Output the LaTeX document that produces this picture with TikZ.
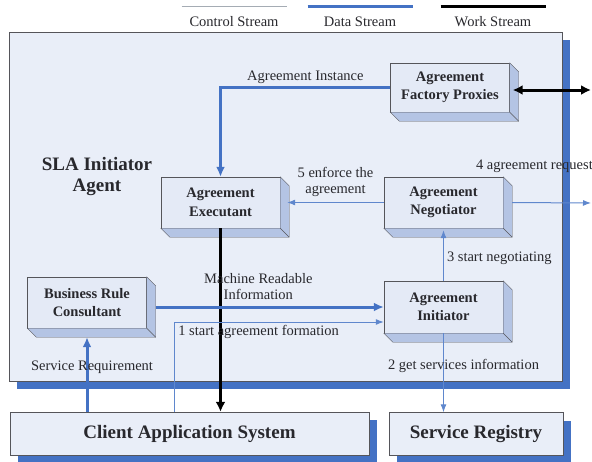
\documentclass[tikz,border=0pt]{standalone}
\usepackage{fontspec}
\setmainfont{Liberation Serif}
\usetikzlibrary{arrows.meta,shadows}

\definecolor{agentfill}{RGB}{233,238,248}
\definecolor{boxfront}{RGB}{228,234,246}
\definecolor{boxside}{RGB}{180,196,228}
\definecolor{datablue}{RGB}{68,114,196}
\definecolor{ctrlblue}{RGB}{95,135,205}
\definecolor{ctrlgrey}{RGB}{165,172,180}
\definecolor{edgegrey}{RGB}{85,85,90}
\definecolor{textgrey}{RGB}{40,40,45}

\begin{document}
\begin{tikzpicture}[x=1pt, y=-1pt,
    agentbox/.style={draw=edgegrey, fill=boxfront, align=center, inner sep=1pt,
      font=\bfseries\fontsize{14.5}{18.5}\selectfont, text=textgrey,
      minimum width=119pt, minimum height=51pt},
    sysbox/.style={draw=edgegrey, fill=agentfill, minimum height=43pt,
      font=\bfseries\fontsize{19}{22}\selectfont, text=textgrey,
      general shadow={fill=datablue, shadow xshift=8pt, shadow yshift=-8pt}},
    lbl/.style={font=\fontsize{14.5}{16}\selectfont, align=center, inner sep=2pt,
      text=textgrey},
    data/.style={datablue, line width=3pt, -{Latex[length=10pt,width=9pt]}},
    ctrl/.style={ctrlblue, line width=1pt, -{Latex[length=8pt,width=6pt]}},
    work/.style={black, line width=3pt, -{Latex[length=10pt,width=10pt]}}]
    \def \depth {9pt} % extrusion of the boxes
    \useasboundingbox (0,0) rectangle (592,461);

    % legend
    \foreach \c/\col/\w/\t [count=\i] in {234/ctrlgrey/1.8/Control Stream,
        360/datablue/3/Data Stream, 493/black/3.5/Work Stream}
    {
      \draw[\col, line width=\w pt] (\c-52.5,6.5) -- (\c+52.5,6.5);
      \node[lbl] (leg\i) at (\c,22) {\t};
    }

    % frame of the agent
    \node[draw=edgegrey, fill=agentfill, line width=0.8pt,
      minimum width=553pt, minimum height=349pt,
      general shadow={fill=datablue, shadow xshift=8pt, shadow yshift=-8pt}]
      (agent) at (285.5,206.5) {};
    \node[font=\bfseries\fontsize{19}{21}\selectfont, align=center, text=textgrey]
      (sla) at (97,177) {SLA Initiator\\Agent};

    % outside systems
    \node[sysbox, minimum width=359pt] (cas) at (189.5,433.5) {Client Application System};
    \node[sysbox, minimum width=174pt] (reg) at (476,434) {Service Registry};

    % boxes inside the agent
    \node[agentbox] (exec)  at (220.5,202.5) {Agreement\\Executant};
    \node[agentbox, minimum height=49pt] (proxy) at (450,87.5) {Agreement\\Factory Proxies};
    \node[agentbox] (nego)  at (443.5,202.5) {Agreement\\Negotiator};
    \node[agentbox] (brc)   at (87,302.5) {Business Rule\\Consultant};
    \node[agentbox, minimum height=52pt] (init)  at (443.5,307) {Agreement\\Initiator};
    \foreach \b in {exec,proxy,nego,brc,init}
    {
      \filldraw[draw=edgegrey, fill=boxside] (\b.north east) -- ++(\depth,-\depth)
        -- ([shift={(\depth,-\depth)}]\b.south east)
        -- ([shift={(\depth,-\depth)}]\b.south west) -- (\b.south west)
        -- (\b.south east) -- cycle;
      \draw[edgegrey] (\b.south east) -- ++(\depth,-\depth);
    }

    \coordinate (wsout) at (591,90);
    \coordinate (reqout) at (591,203);

    % streams
    \draw[data] (proxy.west) -| node[lbl, pos=0.25, above] {Agreement Instance} (exec.north);
    \draw[work, {Latex[length=10pt,width=10pt]}-{Latex[length=10pt,width=10pt]}]
      ([xshift=3pt]proxy.east |- wsout) -- (wsout);
    \draw[ctrl] (nego.west) -- node[lbl, above, yshift=3pt] {5 enforce the\\agreement}
      ([xshift=7pt]exec.east);
    \draw[ctrl] ([xshift=\depth]nego.east) -- (reqout);
    \node[lbl, anchor=east] (reqlbl) at (595,166) {4 agreement request};
    \draw[ctrl] (init.north) -- node[lbl, pos=0.45, right, inner sep=3pt] {3 start negotiating}
      ([yshift=-2pt]nego.south);
    \draw[work] (exec.south) -- (exec.south |- cas.north);
    \draw[data] ([xshift=\depth]brc.east |- init.west) --
      node[lbl, pos=0.45, above, yshift=4pt] {Machine Readable\\Information} (init.west);
    \draw[ctrl] ([xshift=165pt]cas.north west) |-
      node[lbl, pos=0.5, below right, inner sep=3pt] {1 start agreement formation}
      ([yshift=-15pt]init.west);
    \draw[data] (brc.south |- cas.north) -- node[lbl, pos=0.6, xshift=5pt] {Service Requirement}
      ([yshift=-\depth]brc.south);
    \draw[ctrl] (init.south) -- node[lbl, pos=0.42, xshift=20pt] {2 get services information}
      (init.south |- reg.north);
\end{tikzpicture}
\end{document}
